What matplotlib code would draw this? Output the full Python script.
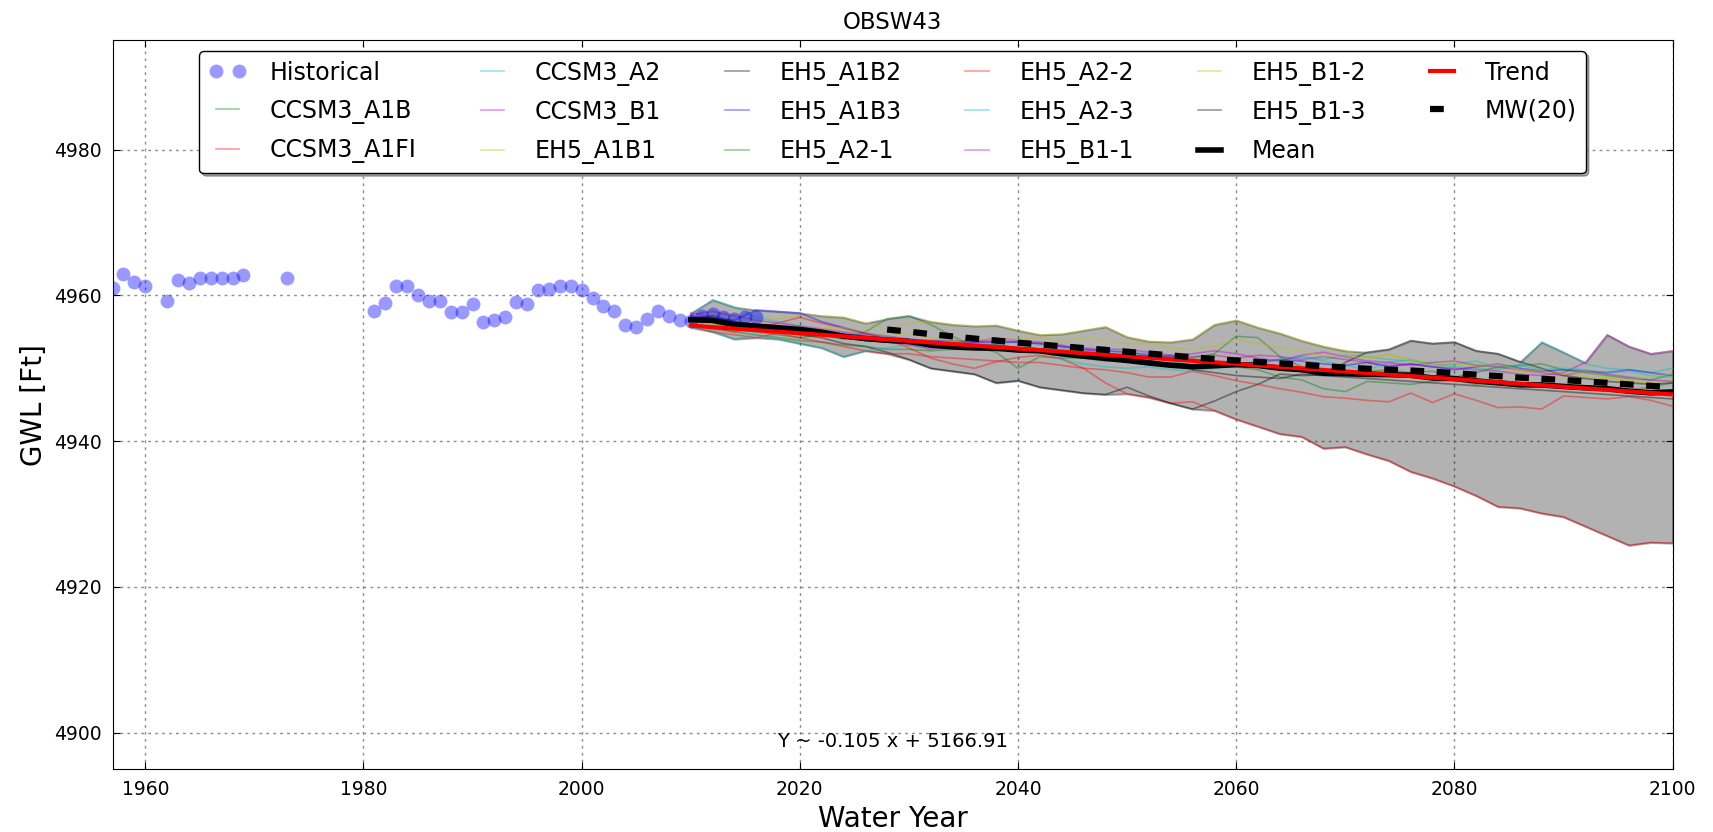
import matplotlib as mpl
mpl.use('Agg')
import numpy as np
import pandas as pd
import matplotlib.pyplot as plt

# historical observations
hist_years = [1957, 1958, 1959, 1960, 1962, 1963, 1964, 1965, 1966, 1967, 1968, 1969, 1973,
              1981, 1982, 1983, 1984, 1985, 1986, 1987, 1988, 1989, 1990, 1991, 1992, 1993,
              1994, 1995, 1996, 1997, 1998, 1999, 2000, 2001, 2002, 2003, 2004, 2005, 2006,
              2007, 2008, 2009, 2010, 2011, 2012, 2013, 2014, 2015, 2016]
hist_gwl = [4961.0, 4963.0, 4961.8, 4961.3, 4959.3, 4962.1, 4961.7, 4962.4, 4962.4, 4962.4,
            4962.4, 4962.8, 4962.4,
            4957.9, 4959.0, 4961.3, 4961.3, 4960.1, 4959.3, 4959.3, 4957.7, 4957.7, 4958.8,
            4956.3, 4956.6, 4957.1, 4959.1, 4958.8, 4960.7, 4960.9, 4961.3, 4961.3, 4960.7,
            4959.7, 4958.5, 4957.9, 4956.0, 4955.7, 4956.8, 4957.8, 4957.2, 4956.6,
            4956.5, 4957.2, 4957.4, 4957.0, 4956.8, 4957.1, 4957.0]

# projections, every 2 years 2010..2100
proj_years = list(range(2010, 2101, 2))

ccsm3_a1b = [4956.6, 4956.2, 4955.4, 4955.0, 4954.6, 4954.2, 4954.6, 4954.0, 4955.0, 4956.8,
             4957.2, 4956.0, 4954.4, 4953.0, 4952.2, 4950.0, 4951.6, 4951.4, 4951.4, 4951.0,
             4951.4, 4951.6, 4951.0, 4950.4, 4950.2, 4950.2, 4949.8, 4948.8, 4948.4, 4947.2,
             4946.8, 4948.2, 4948.0, 4947.8, 4948.2, 4948.4, 4947.8, 4948.0, 4947.6, 4947.4,
             4947.4, 4947.6, 4947.2, 4947.0, 4947.4, 4948.0]
ccsm3_a1fi = [4956.0, 4955.4, 4955.0, 4955.6, 4956.2, 4957.0, 4956.2, 4955.5, 4954.8, 4954.0,
              4952.8, 4951.4, 4950.6, 4950.0, 4950.9, 4951.5, 4951.8, 4951.3, 4950.0, 4948.0,
              4946.5, 4946.0, 4945.2, 4945.4, 4944.2, 4943.0, 4942.0, 4941.0, 4940.6, 4939.0,
              4939.2, 4938.2, 4937.3, 4935.8, 4934.9, 4933.8, 4932.5, 4931.0, 4930.8, 4930.1,
              4929.6, 4928.3, 4927.0, 4925.7, 4926.1, 4926.0]
ccsm3_a2 = [4957.2, 4959.4, 4958.4, 4957.0, 4956.4, 4955.8, 4955.2, 4954.8, 4954.4, 4954.0,
            4953.6, 4953.4, 4953.2, 4953.4, 4953.4, 4953.6, 4953.2, 4952.8, 4952.6, 4952.4,
            4952.2, 4952.0, 4951.6, 4951.0, 4950.6, 4950.4, 4951.0, 4951.2, 4951.6, 4951.2,
            4951.8, 4951.6, 4951.2, 4951.0, 4950.6, 4950.2, 4950.0, 4949.8, 4950.4, 4953.6,
            4952.2, 4950.6, 4950.0, 4949.8, 4949.4, 4950.0]
ccsm3_b1 = [4957.4, 4957.8, 4957.2, 4956.6, 4956.2, 4955.8, 4955.4, 4955.0, 4954.6, 4954.2,
            4953.8, 4953.6, 4953.4, 4953.6, 4953.8, 4953.6, 4953.4, 4953.0, 4952.8, 4952.6,
            4952.6, 4952.2, 4951.8, 4951.6, 4951.8, 4951.4, 4951.8, 4951.6, 4951.2, 4951.6,
            4951.2, 4950.8, 4950.4, 4950.6, 4950.2, 4950.0, 4949.8, 4949.6, 4949.2, 4949.0,
            4949.4, 4950.8, 4954.6, 4953.0, 4952.0, 4952.4]
eh5_a1b1 = [4956.8, 4957.4, 4957.0, 4956.6, 4956.8, 4957.3, 4957.2, 4957.0, 4956.2, 4955.4,
            4956.2, 4956.4, 4956.0, 4955.8, 4955.9, 4955.2, 4954.6, 4954.7, 4955.2, 4955.7,
            4954.3, 4953.7, 4953.6, 4954.0, 4956.0, 4956.6, 4955.6, 4954.8, 4953.8, 4953.0,
            4952.4, 4951.6, 4951.8, 4951.2, 4950.8, 4950.4, 4950.6, 4950.0, 4949.4, 4949.8,
            4949.2, 4948.8, 4948.6, 4948.2, 4948.0, 4948.4]
eh5_a1b2 = [4957.0, 4956.6, 4956.0, 4955.4, 4955.0, 4954.6, 4954.2, 4953.4, 4953.0, 4952.2,
            4951.2, 4950.0, 4949.6, 4949.2, 4948.0, 4948.3, 4947.4, 4947.0, 4946.6, 4946.4,
            4947.4, 4946.2, 4945.2, 4944.4, 4945.5, 4946.8, 4947.8, 4949.2, 4949.0, 4949.1,
            4950.8, 4952.2, 4952.6, 4953.8, 4953.4, 4953.6, 4952.4, 4952.0, 4950.9, 4950.0,
            4949.0, 4948.6, 4948.2, 4948.0, 4947.8, 4948.0]
eh5_a1b3 = [4957.2, 4956.8, 4956.6, 4958.0, 4957.8, 4957.6, 4956.4, 4955.6, 4954.8, 4954.4,
            4954.0, 4953.8, 4953.8, 4953.6, 4953.6, 4953.6, 4953.4, 4953.0, 4952.6, 4952.4,
            4952.2, 4951.8, 4951.6, 4951.0, 4950.4, 4950.4, 4950.8, 4951.2, 4951.0, 4950.6,
            4950.4, 4950.8, 4950.2, 4950.6, 4950.2, 4949.8, 4950.2, 4950.6, 4950.0, 4949.6,
            4949.8, 4949.6, 4949.4, 4949.8, 4949.4, 4949.0]
eh5_a2_1 = [4956.2, 4955.6, 4955.0, 4954.6, 4954.2, 4953.8, 4953.6, 4953.2, 4953.0, 4952.6,
            4952.6, 4952.4, 4952.6, 4952.6, 4952.4, 4952.6, 4952.2, 4951.8, 4951.4, 4951.6,
            4951.6, 4951.6, 4951.8, 4951.4, 4952.0, 4954.4, 4954.2, 4951.6, 4950.2, 4949.6,
            4949.2, 4949.6, 4949.8, 4949.4, 4949.6, 4948.8, 4949.4, 4950.2, 4950.4, 4950.6,
            4949.8, 4949.4, 4949.0, 4948.6, 4948.4, 4949.2]
eh5_a2_2 = [4955.8, 4955.0, 4954.6, 4954.2, 4954.8, 4954.2, 4953.6, 4953.0, 4952.4, 4952.0,
            4952.0, 4951.6, 4951.4, 4951.2, 4951.0, 4950.8, 4950.8, 4950.4, 4950.0, 4949.8,
            4949.4, 4948.8, 4948.8, 4949.6, 4949.0, 4948.3, 4947.8, 4947.2, 4946.7, 4946.1,
            4945.9, 4945.6, 4945.4, 4946.6, 4945.3, 4946.5, 4945.6, 4944.6, 4944.7, 4944.4,
            4946.2, 4946.0, 4945.8, 4946.1, 4945.6, 4944.8]
eh5_a2_3 = [4955.6, 4955.2, 4954.0, 4954.6, 4954.0, 4953.4, 4952.8, 4951.6, 4952.4, 4952.8,
            4953.2, 4952.8, 4953.4, 4953.4, 4953.2, 4952.8, 4952.4, 4951.2, 4950.6, 4950.2,
            4950.0, 4950.2, 4949.8, 4949.6, 4950.0, 4950.2, 4950.6, 4951.2, 4951.6, 4951.0,
            4950.4, 4949.8, 4950.8, 4951.2, 4950.4, 4950.6, 4951.0, 4950.0, 4950.4, 4949.8,
            4950.0, 4949.8, 4949.4, 4949.6, 4949.0, 4948.8]
eh5_b1_1 = [4957.6, 4957.0, 4956.4, 4956.0, 4955.6, 4955.2, 4954.8, 4954.2, 4953.8, 4953.6,
            4953.2, 4952.6, 4953.0, 4953.6, 4954.2, 4953.8, 4953.6, 4953.2, 4952.6, 4952.2,
            4951.6, 4951.0, 4951.6, 4952.0, 4952.4, 4952.0, 4951.4, 4951.0, 4951.8, 4952.2,
            4951.6, 4951.0, 4950.8, 4950.4, 4950.8, 4951.0, 4950.4, 4950.2, 4949.8, 4949.4,
            4949.0, 4949.6, 4949.2, 4948.8, 4948.4, 4948.2]
eh5_b1_2 = [4956.4, 4956.0, 4955.8, 4955.6, 4955.2, 4955.0, 4955.4, 4955.6, 4955.0, 4954.4,
            4954.8, 4954.2, 4953.8, 4954.0, 4954.0, 4954.0, 4954.2, 4953.8, 4954.2, 4953.8,
            4953.4, 4953.4, 4952.8, 4952.6, 4953.0, 4954.0, 4953.4, 4952.8, 4952.4, 4951.6,
            4951.8, 4951.2, 4952.0, 4951.0, 4950.4, 4950.8, 4950.2, 4950.6, 4949.8, 4949.6,
            4949.2, 4949.6, 4948.8, 4948.4, 4948.8, 4949.2]
eh5_b1_3 = [4956.8, 4957.2, 4956.4, 4956.0, 4955.6, 4955.4, 4955.0, 4954.4, 4953.8, 4953.6,
            4953.4, 4953.2, 4953.0, 4953.0, 4953.2, 4952.8, 4952.6, 4952.2, 4951.8, 4951.6,
            4951.4, 4951.0, 4950.6, 4949.8, 4949.4, 4949.0, 4948.8, 4948.6, 4949.2, 4949.0,
            4948.8, 4948.6, 4948.4, 4948.2, 4948.0, 4947.8, 4947.6, 4947.4, 4947.2, 4947.0,
            4946.8, 4946.6, 4946.4, 4946.2, 4946.0, 4945.8]

scen_names = ['CCSM3_A1B', 'CCSM3_A1FI', 'CCSM3_A2', 'CCSM3_B1', 'EH5_A1B1', 'EH5_A1B2',
              'EH5_A1B3', 'EH5_A2-1', 'EH5_A2-2', 'EH5_A2-3', 'EH5_B1-1', 'EH5_B1-2', 'EH5_B1-3']
scen_data = [ccsm3_a1b, ccsm3_a1fi, ccsm3_a2, ccsm3_b1, eh5_a1b1, eh5_a1b2, eh5_a1b3,
             eh5_a2_1, eh5_a2_2, eh5_a2_3, eh5_b1_1, eh5_b1_2, eh5_b1_3]
scen_colors = ['g', 'r', 'c', 'm', 'y', 'k', 'b', 'g', 'r', 'c', 'm', 'y', 'k']

# linear trend of the ensemble mean
slope = -0.105
intercept = 5166.91

proj = np.array(scen_data)
yrs = np.array(proj_years)
ens_mean = proj.mean(axis=0)
mw = pd.Series(ens_mean).rolling(10).mean()

fig = plt.figure(figsize=(17.13, 8.32), dpi=100)
ax = fig.add_axes([0.0657, 0.0757, 0.9107, 0.8757])

ax.plot(hist_years, hist_gwl, 'o', color='b', alpha=0.4, markersize=10,
        markeredgewidth=0, label='Historical', zorder=4)

ax.fill_between(yrs, proj.min(axis=0), proj.max(axis=0), color='k', alpha=0.3,
                linewidth=1.5, zorder=2)
for name, vals, c in zip(scen_names, scen_data, scen_colors):
    ax.plot(yrs, vals, color=c, alpha=0.4, lw=1.2, label=name, zorder=3)

ax.plot(yrs, ens_mean, color='k', lw=4, label='Mean', zorder=5)
ax.plot(yrs, slope*yrs + intercept, color='r', lw=3, label='Trend', zorder=6)
ax.plot(yrs, mw, color='k', lw=4.5, dashes=(2.2, 2.0), label='MW(20)', zorder=7)

ax.text(0.5, 0.025, f'Y ~ {slope} x + {intercept}', transform=ax.transAxes,
        ha='center', va='bottom', fontsize=14)

ax.set_xlim(hist_years[0], 2100)
ax.set_ylim(4895, 4995)
ax.set_xticks(range(1960, 2101, 20))
ax.set_yticks(range(4900, 4981, 20))
ax.tick_params(direction='in', top=True, right=True, labelsize=13.5, length=5, pad=8)
ax.grid(True, color='0.55', linestyle=(0, (2, 3)), lw=1)
ax.set_axisbelow(True)

ax.set_title('OBSW43', fontsize=16.5, pad=8)
ax.set_xlabel('Water Year', fontsize=20)
ax.set_ylabel('GWL [Ft]', fontsize=20)

ax.legend(loc='upper center', ncol=6, fontsize=17, fancybox=True, shadow=True,
          numpoints=2, handlelength=1.6, handletextpad=1.0, columnspacing=2.4,
          labelspacing=0.6, borderaxespad=0.45, framealpha=1, edgecolor='k')

fig.savefig('out.png', dpi=100)
plt.close(fig)
